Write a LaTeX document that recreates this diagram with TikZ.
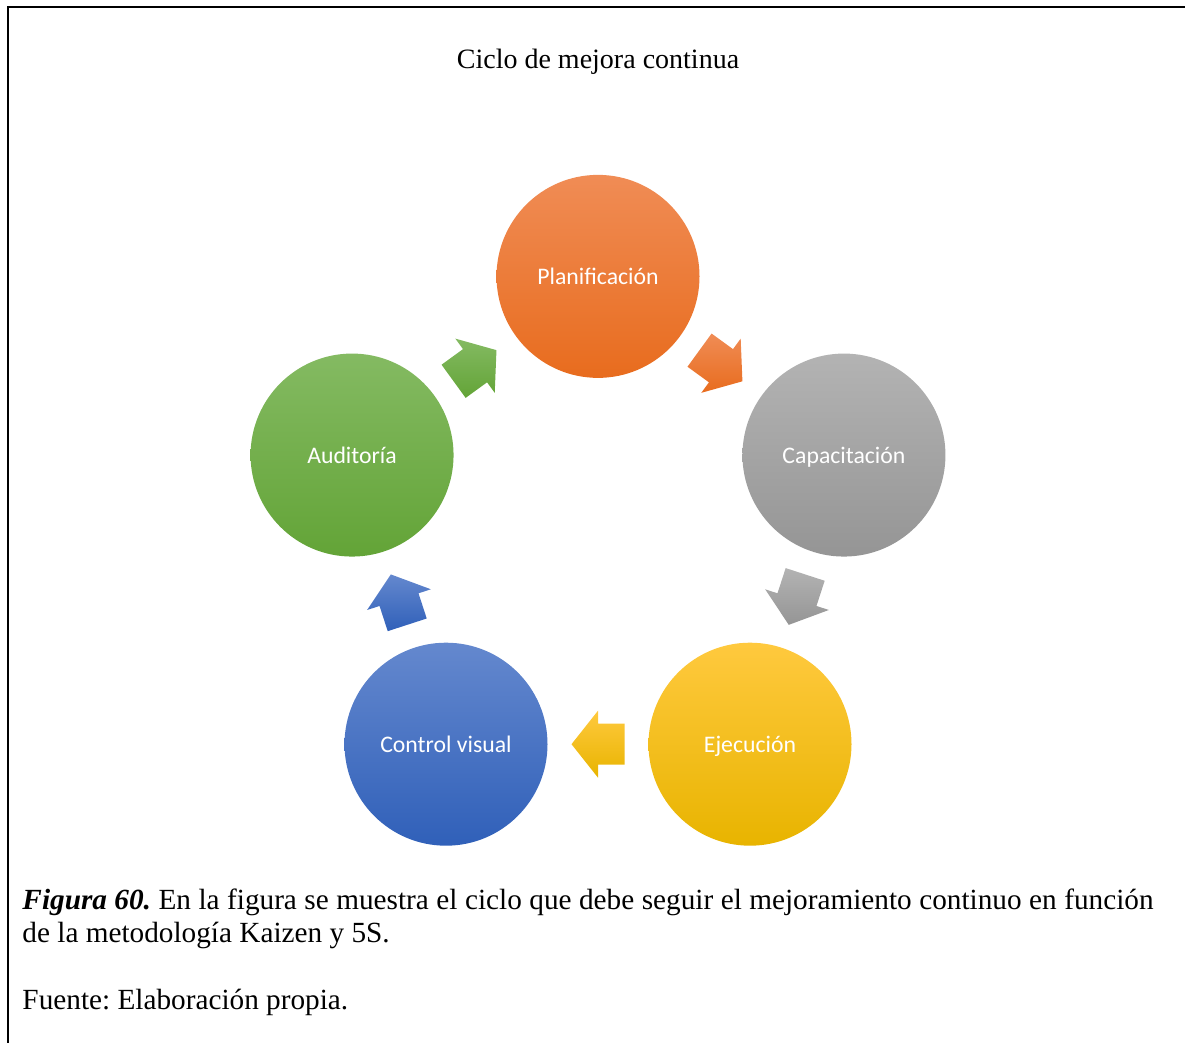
\documentclass[tikz,border=0pt]{standalone}
\usepackage{fontspec}
\setmainfont{Liberation Serif}
\newfontfamily\calibri{Carlito}
\usetikzlibrary{calc}
\definecolor{orangetop}{HTML}{F08C55}
\definecolor{orangebot}{HTML}{E86C1E}
\definecolor{graytop}{HTML}{B3B3B3}
\definecolor{graybot}{HTML}{959595}
\definecolor{goldtop}{HTML}{FFC93E}
\definecolor{goldbot}{HTML}{E8B400}
\definecolor{bluetop}{HTML}{6488CE}
\definecolor{bluebot}{HTML}{3060B9}
\definecolor{greentop}{HTML}{84BA62}
\definecolor{greenbot}{HTML}{63A437}
\frenchspacing
\tikzset{
  stage/.style={circle,minimum size=81.2pt,inner sep=0pt,top color=#1top,bottom color=#1bot,text=white,text height=6.8pt,text depth=0pt,font=\calibri\fontsize{9.5}{11}\selectfont},
  txt/.style={inner sep=0pt,font=\fontsize{11.7}{14}\selectfont}
}
\begin{document}
\begin{tikzpicture}[x=0.4pt,y=0.4pt]
              \useasboundingbox (0,0) rectangle (1185,1043);
              \draw[line width=0.8pt] (8,0) -- (8,1036) -- (1185,1036);
              \node[anchor=base,inner sep=0pt,font=\fontsize{11.2}{13.5}\selectfont] (title) at (598,974) {Ciclo de mejora continua};
              \coordinate (o) at (598,508);
              \node[stage=orange] (plan) at ($(o)+(90:258.6)$) {Planificación};
              \node[stage=gray] (capa) at ($(o)+(18:258.6)$) {Capacitación};
              \node[stage=gold] (ejec) at ($(o)+(-54:258.6)$) {Ejecución};
              \node[stage=blue] (ctrl) at ($(o)+(-126:258.6)$) {Control visual};
              \node[stage=green] (audi) at ($(o)+(162:258.6)$) {Auditoría};
              \foreach \a/\b/\c/\ang in {plan/capa/orange/-36, capa/ejec/gray/-108, ejec/ctrl/gold/180, ctrl/audi/blue/108, audi/plan/green/36}
                \shade[top color=\c top,bottom color=\c bot,shift={($(\a)!0.5!(\b)$)},rotate=\ang] (-26.5,-20.5) -- (0,-20.5) -- (0,-33.5) -- (26.5,0) -- (0,33.5) -- (0,20.5) -- (-26.5,20.5) -- cycle;
              \node[txt,anchor=base west] (cap1) at (22,133) {\hbox to 452.4pt{\textbf{\textit{Figura 60.}} En la figura se muestra el ciclo que debe seguir el mejoramiento continuo en función}};
              \node[txt,anchor=base west] (cap2) at (22,100) {de la metodología Kaizen y 5S.};
              \node[txt,anchor=base west] (src) at (22,33) {Fuente: Elaboración propia.};
            \end{tikzpicture}
\end{document}
